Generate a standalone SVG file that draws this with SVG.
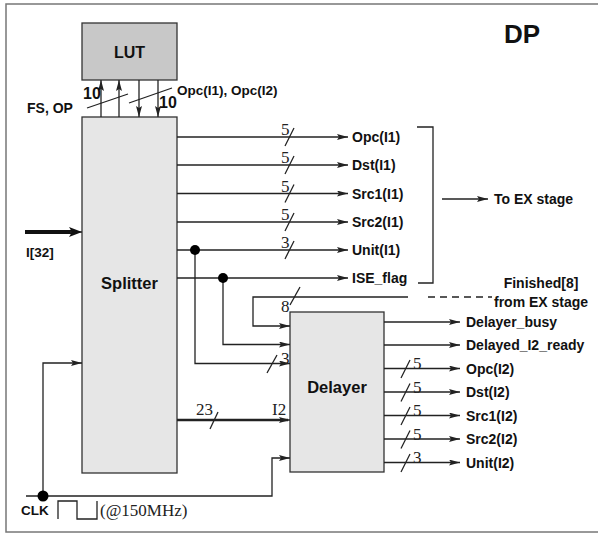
<svg xmlns="http://www.w3.org/2000/svg" width="598" height="534" viewBox="0 0 598 534">
<defs>
<style>
.ln{fill:none;stroke:#222;stroke-width:1.3}
.thk{fill:none;stroke:#222;stroke-width:2.6}
.box{stroke:#333;stroke-width:1.3}
.lbl{font-family:"Liberation Sans",Arial,sans-serif;font-weight:bold;font-size:14px;fill:#111}
.num{font-family:"Liberation Serif","Times New Roman",serif;font-size:17px;fill:#222}
.dot{fill:#000}
</style>
<marker id="ah" markerUnits="userSpaceOnUse" markerWidth="12" markerHeight="8" refX="11" refY="3" orient="auto">
<path d="M0,0 L11,3 L0,6 L2,3 z" fill="#222"/>
</marker>
<marker id="ahb" markerUnits="userSpaceOnUse" markerWidth="14" markerHeight="12" refX="13" refY="5" orient="auto">
<path d="M0,0 L13,5 L0,10 L3,5 z" fill="#111"/>
</marker>
</defs>
<rect x="6" y="4" width="600" height="528" fill="#fff" stroke="#777" stroke-width="1.5"/>
<text x="522" y="43" text-anchor="middle" style="font-family:'Liberation Sans',Arial,sans-serif;font-weight:bold;font-size:26px;fill:#111">DP</text>

<g id="lut">
<rect class="box" x="82" y="23" width="95" height="57" fill="#c8c8c8"/>
<text class="lbl" x="129.5" y="58" text-anchor="middle" style="font-size:16px">LUT</text>
</g>
<g id="splitter">
<rect class="box" x="82" y="117" width="95" height="356" fill="#e6e6e6"/>
<text class="lbl" x="129.5" y="289" text-anchor="middle" style="font-size:16.5px">Splitter</text>
</g>
<g id="delayer">
<rect class="box" x="290" y="312" width="94" height="160" fill="#e6e6e6"/>
<text class="lbl" x="337" y="393" text-anchor="middle" style="font-size:16.5px">Delayer</text>
</g>

<g id="connectors">
<line class="ln" x1="101" y1="117" x2="101" y2="80" marker-end="url(#ah)"/>
<line class="ln" x1="119" y1="117" x2="119" y2="80" marker-end="url(#ah)"/>
<line class="ln" x1="139" y1="80" x2="139" y2="117" marker-end="url(#ah)"/>
<line class="ln" x1="158" y1="80" x2="158" y2="117" marker-end="url(#ah)"/>
<line class="ln" x1="87" y1="108" x2="128" y2="94"/>
<line class="ln" x1="129" y1="103" x2="172" y2="88"/>

<line class="ln" x1="177" y1="137" x2="348" y2="137" marker-end="url(#ah)"/>
<line class="ln" x1="177" y1="165" x2="348" y2="165" marker-end="url(#ah)"/>
<line class="ln" x1="177" y1="193.5" x2="348" y2="193.5" marker-end="url(#ah)"/>
<line class="ln" x1="177" y1="222" x2="348" y2="222" marker-end="url(#ah)"/>
<line class="ln" x1="177" y1="250" x2="348" y2="250" marker-end="url(#ah)"/>
<line class="ln" x1="177" y1="278" x2="348" y2="278" marker-end="url(#ah)"/>
<line class="ln" x1="285" y1="146" x2="294" y2="128"/>
<line class="ln" x1="285" y1="174" x2="294" y2="156"/>
<line class="ln" x1="285" y1="202.5" x2="294" y2="184.5"/>
<line class="ln" x1="285" y1="231" x2="294" y2="213"/>
<line class="ln" x1="285" y1="259" x2="294" y2="241"/>

<path class="ln" d="M417,127 H433 V283 H418"/>
<line class="ln" x1="442" y1="199" x2="488" y2="199" marker-end="url(#ah)"/>

<path class="ln" d="M408,297 H253 V326 H290" marker-end="url(#ah)"/>
<line class="ln" x1="428" y1="297" x2="492" y2="297" stroke-dasharray="7,5"/>
<line class="ln" x1="290" y1="305" x2="300" y2="287"/>
<path class="ln" d="M223,278 V344.5 H290" marker-end="url(#ah)"/>
<path class="ln" d="M195,250 V363.5 H290" marker-end="url(#ah)"/>
<line class="ln" x1="267" y1="373" x2="277" y2="355"/>
<line class="thk" x1="177" y1="420" x2="288" y2="420"/>
<line class="ln" x1="280" y1="420" x2="290" y2="420" marker-end="url(#ah)"/>
<line class="ln" x1="210" y1="429" x2="218" y2="412"/>

<line class="ln" x1="384" y1="322" x2="460" y2="322" marker-end="url(#ah)"/>
<line class="ln" x1="384" y1="345" x2="460" y2="345" marker-end="url(#ah)"/>
<line class="ln" x1="384" y1="368.5" x2="460" y2="368.5" marker-end="url(#ah)"/>
<line class="ln" x1="384" y1="392" x2="460" y2="392" marker-end="url(#ah)"/>
<line class="ln" x1="384" y1="415.5" x2="460" y2="415.5" marker-end="url(#ah)"/>
<line class="ln" x1="384" y1="439" x2="460" y2="439" marker-end="url(#ah)"/>
<line class="ln" x1="384" y1="462.5" x2="460" y2="462.5" marker-end="url(#ah)"/>
<line class="ln" x1="401" y1="378" x2="410" y2="360"/>
<line class="ln" x1="401" y1="401.5" x2="410" y2="383.5"/>
<line class="ln" x1="401" y1="425" x2="410" y2="407"/>
<line class="ln" x1="401" y1="448.5" x2="410" y2="430.5"/>
<line class="ln" x1="401" y1="472" x2="410" y2="454"/>

<line x1="25" y1="232" x2="74" y2="232" stroke="#111" stroke-width="4"/>
<line class="ln" x1="70" y1="232" x2="82" y2="232" marker-end="url(#ahb)"/>

<path class="ln" d="M26,496 H272 V458 H290" marker-end="url(#ah)"/>
<path class="ln" d="M43,496 V363 H82" marker-end="url(#ah)"/>
<path class="ln" d="M58,519 V501 H77 V519 H97 V501"/>

<circle class="dot" cx="195" cy="250" r="5"/>
<circle class="dot" cx="223" cy="278" r="5"/>
<circle class="dot" cx="43" cy="496" r="5.5"/>
</g>

<g id="labels">
<text class="lbl" x="83" y="99" style="font-size:16px">10</text>
<text class="lbl" x="159" y="108" style="font-size:16px">10</text>
<text class="lbl" x="27" y="113">FS, OP</text>
<text class="lbl" x="177" y="95" style="font-size:13.5px">Opc(I1), Opc(I2)</text>

<text class="num" x="281" y="135">5</text>
<text class="num" x="281" y="163">5</text>
<text class="num" x="281" y="191.5">5</text>
<text class="num" x="281" y="220">5</text>
<text class="num" x="281" y="248">3</text>

<text class="lbl" x="352" y="142">Opc(I1)</text>
<text class="lbl" x="352" y="170">Dst(I1)</text>
<text class="lbl" x="352" y="198.5">Src1(I1)</text>
<text class="lbl" x="352" y="227">Src2(I1)</text>
<text class="lbl" x="352" y="255">Unit(I1)</text>
<text class="lbl" x="352" y="283">ISE_flag</text>
<text class="lbl" x="494" y="204">To EX stage</text>
<text class="lbl" x="541" y="288" text-anchor="middle">Finished[8]</text>
<text class="lbl" x="494" y="307">from EX stage</text>

<text class="num" x="281" y="312">8</text>
<text class="num" x="281" y="364">3</text>
<text class="num" x="196" y="415">23</text>
<text class="num" x="272" y="415">I2</text>

<text class="lbl" x="466" y="327">Delayer_busy</text>
<text class="lbl" x="466" y="350">Delayed_I2_ready</text>
<text class="lbl" x="466" y="373.5">Opc(I2)</text>
<text class="lbl" x="466" y="397">Dst(I2)</text>
<text class="lbl" x="466" y="420.5">Src1(I2)</text>
<text class="lbl" x="466" y="444">Src2(I2)</text>
<text class="lbl" x="466" y="467.5">Unit(I2)</text>
<text class="num" x="413" y="369">5</text>
<text class="num" x="413" y="392.5">5</text>
<text class="num" x="413" y="416">5</text>
<text class="num" x="413" y="439.5">5</text>
<text class="num" x="413" y="463">3</text>

<text class="lbl" x="26" y="257" style="font-size:13.5px">I[32]</text>
<text class="lbl" x="21" y="515" style="font-size:13.5px">CLK</text>
<text class="num" x="100" y="516">(@150MHz)</text>
</g>
</svg>
